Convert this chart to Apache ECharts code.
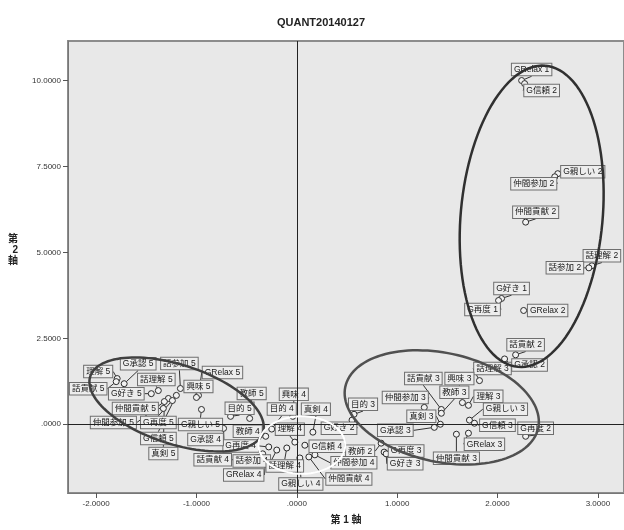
<!DOCTYPE html>
<html>
<head>
<meta charset="utf-8">
<script src="https://cdn.jsdelivr.net/npm/echarts@6/dist/echarts.min.js"></script>
<style>
  html, body { margin: 0; padding: 0; background: #ffffff; }
  #chart { width: 624px; height: 530px; }
</style>
</head>
<body>
<div id="chart"></div>
<script>
// Category points of the correspondence plot (dimension 1 / dimension 2)
const pointNames = [
  'GRelax 1', 'G信頼 2', 'G親しい 2', '仲間参加 2', '仲間貢献 2', '話理解 2', '話参加 2',
  'G好き 1', 'G再度 1', 'GRelax 2', '話貢献 2', 'G承認 2',
  '話理解 3', '話貢献 3', '興味 3', '教師 3', '理解 3', '仲間参加 3', 'G親しい 3', 'G信頼 3',
  '目的 3', '真剣 3', 'G承認 3', 'GRelax 3', '仲間貢献 3', 'G再度 2', '教師 2', 'G再度 3',
  'G好き 3', 'G好き 2',
  '興味 4', '目的 4', '真剣 4', '理解 4', '教師 4', 'G再度 4', '話貢献 4', '話参加 4',
  'GRelax 4', '話理解 4', 'G親しい 4', 'G信頼 4', '仲間参加 4', '仲間貢献 4', 'G承認 4',
  '理解 5', 'G承認 5', '話参加 5', 'GRelax 5', '話貢献 5', '話理解 5', 'G好き 5', '興味 5',
  '仲間貢献 5', '仲間参加 5', 'G再度 5', 'G親しい 5', 'G信頼 5', '真剣 5', '教師 5', '目的 5'
];
const dim1 = [
  2.24, 2.27, 2.60, 2.57, 2.28, 2.94, 2.91,
  2.04, 2.01, 2.26, 2.18, 2.07,
  1.82, 1.44, 1.65, 1.44, 1.71, 1.27, 1.72, 1.77,
  0.57, 1.43, 1.37, 1.71, 1.59, 2.28, 0.84, 0.87,
  0.89, 0.55,
  -0.04, -0.25, 0.16, -0.02, -0.31, -0.28, -0.34, -0.20,
  -0.31, -0.10, 0.03, 0.08, 0.18, 0.12, -0.73,
  -1.79, -1.72, -1.16, -0.98, -1.80, -1.38, -1.45, -1.00,
  -1.33, -1.28, -1.24, -0.95, -1.20, -1.32, -0.47, -0.66
];
const dim2 = [
  10.00, 9.91, 7.29, 7.20, 5.88, 4.61, 4.55,
  3.66, 3.60, 3.31, 2.02, 1.90,
  1.27, 0.43, 0.63, 0.32, 0.55, 0.49, 0.12, 0.03,
  0.29, 0.00, -0.09, -0.26, -0.29, -0.35, -0.55, -0.81,
  -0.86, 0.12,
  0.23, -0.14, -0.23, -0.52, -0.35, -0.66, -0.86, -0.75,
  -1.01, -0.69, -0.98, -0.61, -0.89, -0.95, -0.12,
  1.33, 1.18, 1.04, 0.84, 1.24, 0.98, 0.89, 0.78,
  0.46, 0.75, 0.69, 0.43, 0.84, 0.66, 0.17, 0.23
];

// Where each label box sits relative to its point (pixels)
const labelShift = {
  'GRelax 1': [10, -11], 'G信頼 2': [17, 7], 'G親しい 2': [25, -2], '仲間参加 2': [-21, 7],
  '仲間貢献 2': [10, -10], '話理解 2': [10, -10], '話参加 2': [-24, 0], 'G好き 1': [10, -10],
  'G再度 1': [-16, 9], 'GRelax 2': [24, 0], '話貢献 2': [10, -10], 'G承認 2': [25, 6],
  '話理解 3': [13, -12], '話貢献 3': [-18, -31], '興味 3': [-3, -24], '教師 3': [13, -21],
  '理解 3': [20, -9], '仲間参加 3': [-19, -10], 'G親しい 3': [36, -11], 'G信頼 3': [23, 2],
  '目的 3': [9, -10], '真剣 3': [-19, -8], 'G承認 3': [-39, 3], 'GRelax 3': [16, 11],
  '仲間貢献 3': [0, 24], 'G再度 2': [10, -8], '教師 2': [-21, 8], 'G再度 3': [22, -1],
  'G好き 3': [19, 10], 'G好き 2': [-13, 8],
  '興味 4': [1, -22], '目的 4': [10, -20], '真剣 4': [3, -23], '理解 4': [-5, -13],
  '教師 4': [-18, -5], 'G再度 4': [-28, -1], '話貢献 4': [-50, 6], '話参加 4': [-25, 11],
  'GRelax 4': [-22, 16], '話理解 4': [-2, 18], 'G親しい 4': [1, 26], 'G信頼 4': [22, 1],
  '仲間参加 4': [39, 8], '仲間貢献 4': [40, 22], 'G承認 4': [-18, 11],
  '理解 5': [-19, -7], 'G承認 5': [14, -20], '話参加 5': [-1, -25], 'GRelax 5': [24, -23],
  '話貢献 5': [-28, 7], '話理解 5': [-2, -11], 'G好き 5': [-25, 0], '興味 5': [2, -11],
  '仲間貢献 5': [-28, 0], '仲間参加 5': [-55, 24], 'G再度 5': [-14, 22], 'G親しい 5': [-1, 15],
  'G信頼 5': [-18, 43], '真剣 5': [-1, 52], '教師 5': [2, -25], '目的 5': [9, -8]
};

// Grouping ellipses: centre and two semi-axis vectors, in axis units
const ellipseCenters = [[2.34, 6.05], [1.444, 0.49], [-1.198, 0.576], [0.05, -0.605]];
const ellipseAxisA = [[0.1375, 4.38], [0.961, -0.599], [0.860, -0.818], [0.432, 0]];
const ellipseAxisB = [[0.704, -0.19], [-0.112, -1.55], [-0.122, -1.096], [0, 0.836]];
const ellipseColors = ['#303030', '#505050', '#404040', '#ffffff'];

// Axis tick positions
const xTicks = [-2, -1, 0, 1, 2, 3];
const yTicks = [0, 2.5, 5, 7.5, 10];

const fmt = v => {
  let s = Number(v).toFixed(4);
  if (s.startsWith('0.')) s = s.slice(1);
  if (s.startsWith('-0.')) s = '-' + s.slice(2);
  return s;
};

const points = pointNames.map((n, i) => ({ name: n, value: [dim1[i], dim2[i]] }));
const ellipseData = ellipseCenters.map((c, i) => [c[0], c[1],
  ellipseAxisA[i][0], ellipseAxisA[i][1], ellipseAxisB[i][0], ellipseAxisB[i][1]]);

const chart = echarts.init(document.getElementById('chart'));
const latin = '"Liberation Sans", Arial, sans-serif';
const cjk = '"Liberation Sans", "Noto Sans CJK JP", sans-serif';

chart.setOption({
  backgroundColor: '#ffffff',
  animation: false,
  title: {
    text: 'QUANT20140127',
    left: 316, top: 12, textAlign: 'center',
    textStyle: { fontFamily: latin, fontSize: 11, fontWeight: 'bold', color: '#222' }
  },
  grid: {
    left: 68, top: 41, width: 564, height: 456,
    show: true, backgroundColor: '#e8e8e8', borderColor: '#8c8c8c', borderWidth: 2
  },
  xAxis: {
    type: 'value', min: -2.28, max: 3.26,
    name: '第 1 軸', nameLocation: 'middle', nameGap: 22,
    nameTextStyle: { fontFamily: cjk, fontSize: 10, fontWeight: 'bold', color: '#222' },
    axisLine: { show: true, onZero: false, lineStyle: { color: '#777', width: 1 } },
    axisTick: { show: true, customValues: xTicks, length: 5, lineStyle: { color: '#555' } },
    axisLabel: { customValues: xTicks, formatter: fmt, fontFamily: latin, fontSize: 8, color: '#333', margin: 7 },
    splitLine: { show: false }
  },
  yAxis: {
    type: 'value', min: -2.0, max: 11.15,
    name: '第\n2\n軸', nameLocation: 'middle', nameGap: 50, nameRotate: 0,
    nameTextStyle: { fontFamily: cjk, fontSize: 10, fontWeight: 'bold', color: '#222',
      lineHeight: 11, verticalAlign: 'bottom' },
    axisLine: { show: true, onZero: false, lineStyle: { color: '#777', width: 1 } },
    axisTick: { show: true, customValues: yTicks, length: 5, lineStyle: { color: '#555' } },
    axisLabel: { customValues: yTicks, formatter: fmt, fontFamily: latin, fontSize: 8, color: '#333', margin: 7 },
    splitLine: { show: false }
  },
  series: [
    {
      type: 'scatter',
      z: 2,
      data: points,
      symbol: 'circle',
      symbolSize: 6,
      itemStyle: { color: '#f2f2f2', borderColor: '#2a2a2a', borderWidth: 1, opacity: 1 },
      label: {
        show: true,
        position: 'inside',
        formatter: p => p.name,
        fontFamily: cjk, fontSize: 8.5, color: '#1a1a1a',
        backgroundColor: '#ededed', borderColor: '#6e6e6e', borderWidth: 1,
        padding: [2, 2, 1, 2]
      },
      labelLine: { show: true, lineStyle: { color: '#333', width: 1 } },
      labelLayout: p => {
        const s = labelShift[pointNames[p.dataIndex]] || [0, -12];
        return { dx: s[0], dy: s[1] };
      },
      emphasis: { disabled: true }
    },
    {
      type: 'custom',
      z: 10,
      silent: true,
      data: ellipseData,
      renderItem: (params, api) => {
        const cx = api.value(0), cy = api.value(1);
        const ax = api.value(2), ay = api.value(3);
        const bx = api.value(4), by = api.value(5);
        const pts = [];
        for (let k = 0; k <= 120; k++) {
          const t = 2 * Math.PI * k / 120;
          const c = Math.cos(t), s = Math.sin(t);
          pts.push(api.coord([cx + ax * c + bx * s, cy + ay * c + by * s]));
        }
        return {
          type: 'polyline',
          shape: { points: pts },
          style: { fill: 'none', stroke: ellipseColors[params.dataIndex],
                   lineWidth: params.dataIndex === 3 ? 2 : 2.5 }
        };
      }
    },
    {
      // reference lines through the origin
      type: 'scatter',
      z: 12,
      silent: true,
      data: [],
      markLine: {
        silent: true,
        symbol: ['none', 'none'],
        label: { show: false },
        lineStyle: { color: '#222', width: 1, type: 'solid' },
        data: [{ xAxis: 0 }, { yAxis: 0 }]
      }
    }
  ]
});
</script>
</body>
</html>
